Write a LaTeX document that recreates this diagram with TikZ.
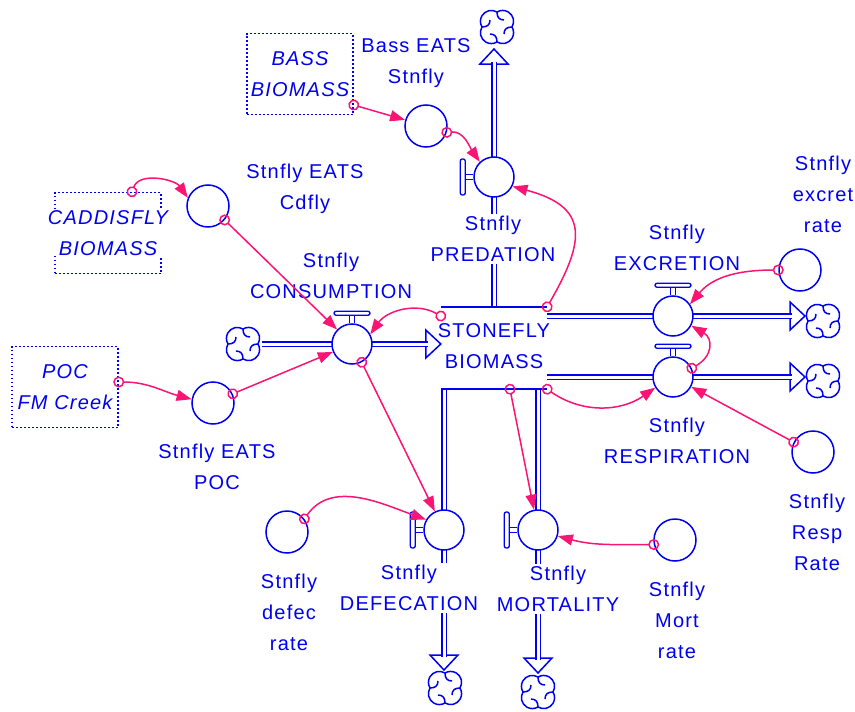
\documentclass[tikz,border=0pt]{standalone}
\usepackage{fontspec}
\setmainfont{Liberation Sans}[LetterSpace=6]
\usetikzlibrary{arrows.meta,backgrounds}

\definecolor{sfblue}{RGB}{0,0,240}
\definecolor{sfpink}{RGB}{250,20,115}

\begin{document}
\begin{tikzpicture}[x=1pt, y=1pt,
    flowline/.style={draw=sfblue, line width=1.5pt},
    handle/.style={draw=sfblue, line width=1.3pt},
    pipe/.style={draw=sfblue, double=white, double distance=3pt, line width=1.4pt},
    valve/.style={circle, flowline, fill=white, minimum size=40pt, inner sep=0pt},
    conv/.style={circle, flowline, fill=white, minimum size=42pt, inner sep=0pt},
    stockbox/.style={minimum width=106pt, minimum height=82pt, inner sep=0pt},
    ghost/.style={draw=sfblue, line width=1.5pt, dash pattern=on 1.6pt off 2.4pt,
        minimum width=106pt, minimum height=81pt, inner sep=0pt},
    lbl/.style={text=sfblue, fill=white, align=center, inner sep=2pt, font=\fontsize{20}{31}\selectfont},
    ghostlbl/.style={lbl, inner sep=0pt, font=\fontsize{20}{31}\selectfont\itshape},
    cloudspot/.style={circle, minimum size=38pt, inner sep=0pt},
    link/.style={draw=sfpink, line width=1.5pt, shorten <=-5.5pt,
        {Circle[open,length=11pt,width=11pt]}-{Triangle[length=15pt,width=11pt]}},
    cloud/.pic={
        \foreach \a in {0,90,180,270}{
            \draw[flowline, rotate=\a] (15,0) arc[start angle=-31.2, end angle=121.2, radius=10.92pt];
            \draw[flowline, rotate=\a] (15,0) .. controls (10,0) and (7,-2) .. (7,-7);
        }
    },
    flowtip/.pic={
        \draw[flowline] (-15,3) -- (-15,14) -- (0,0) -- (-15,-14) -- (-15,-3);
    }]
    \useasboundingbox (0,0) rectangle (855,-712);

    % stock
    \node[stockbox] (stock) at (494,-348) {};
    \draw[flowline] (stock.north west) -- (stock.north east)
        (stock.south west) -- (stock.south east);
    \node[lbl, fill=none] (stockLbl) at (494,-346) {STONEFLY\\BIOMASS};

    % valves
    \node[valve] (cons) at (352,-344) {};
    \node[valve] (pred) at (494,-177) {};
    \node[valve] (excr) at (673,-316) {};
    \node[valve] (resp) at (673,-377) {};
    \node[valve] (defec) at (444,-530) {};
    \node[valve] (mort) at (538,-530) {};

    \foreach \v in {cons,excr,resp}{
        \draw[handle] ([xshift=-2.5]\v.north) -- ++(0,8) ([xshift=2.5]\v.north) -- ++(0,8);
        \draw[handle, rounded corners=2] ([xshift=-18,yshift=8]\v.north) rectangle ([xshift=18,yshift=12]\v.north);
    }
    \foreach \v in {pred,defec,mort}{
        \draw[handle] ([yshift=2.5]\v.west) -- ++(-8,0) ([yshift=-2.5]\v.west) -- ++(-8,0);
        \draw[handle, rounded corners=2] ([xshift=-8,yshift=18]\v.west) rectangle ([xshift=-13,yshift=-18]\v.west);
    }

    % clouds
    \node[cloudspot] (cloudCons) at (243,-344) {};
    \node[cloudspot] (cloudPred) at (497,-27) {};
    \node[cloudspot] (cloudExcr) at (823,-321) {};
    \node[cloudspot] (cloudResp) at (823,-381) {};
    \node[cloudspot] (cloudDefec) at (445,-688) {};
    \node[cloudspot] (cloudMort) at (538,-692) {};
    \foreach \c in {cloudCons,cloudPred,cloudExcr,cloudResp,cloudDefec,cloudMort}
        \pic at (\c) {cloud};

    % pipe ends
    \coordinate (consTip) at (stock.west |- cons);
    \coordinate (predTip) at (494,-49);
    \coordinate (excrTip) at (805,-316);
    \coordinate (respTip) at (805,-377);
    \coordinate (defecTip) at (444,-670);
    \coordinate (mortTip) at (538,-673);
    \pic at (consTip) {flowtip};
    \pic[rotate=90] at (predTip) {flowtip};
    \pic at (excrTip) {flowtip};
    \pic at (respTip) {flowtip};
    \pic[rotate=-90] at (defecTip) {flowtip};
    \pic[rotate=-90] at (mortTip) {flowtip};

    \begin{scope}[on background layer]
        \draw[pipe] (cloudCons.east) -- ([xshift=-13]consTip);
        \draw[pipe] (stock.north -| pred) -- ([yshift=-13]predTip);
        \draw[pipe] (stock.east |- excr) -- ([xshift=-13]excrTip);
        \draw[pipe] (stock.east |- resp) -- ([xshift=-13]respTip);
        \draw[pipe] (stock.south -| defec) -- ([yshift=13]defecTip);
        \draw[pipe] (stock.south -| mort) -- ([yshift=13]mortTip);
    \end{scope}

    % converters
    \node[conv] (bassConv) at (426,-126) {};
    \node[conv] (cdConv) at (208,-206) {};
    \node[conv] (pocConv) at (213,-403) {};
    \node[conv] (excRate) at (800,-270) {};
    \node[conv] (respRate) at (813,-452) {};
    \node[conv] (defRate) at (287,-532) {};
    \node[conv] (mortRate) at (675,-540) {};

    % ghosts
    \node[ghost] (bassGhost) at (300,-74) {};
    \node[ghostlbl] (bassGhostLbl) at (bassGhost) {BASS\\BIOMASS};
    \node[ghost] (cadGhost) at (108,-233) {};
    \node[ghostlbl] (cadGhostLbl) at (cadGhost) {CADDISFLY\\BIOMASS};
    \node[ghost] (pocGhost) at (65,-387) {};
    \node[ghostlbl] (pocGhostLbl) at (pocGhost) {POC\\FM Creek};

    % labels
    \node[lbl] (bassLbl) at (416,-63) {Bass EATS\\Stnfly};
    \node[lbl] (predLbl) at (493,-239) {Stnfly\\PREDATION};
    \node[lbl] (cdLbl) at (305,-189) {Stnfly EATS\\Cdfly};
    \node[lbl] (consLbl) at (331,-276) {Stnfly\\CONSUMPTION};
    \node[lbl] (excrLbl) at (677,-248) {Stnfly\\EXCRETION};
    \node[lbl] (excRateLbl) at (823,-194) {Stnfly\\excret\\rate};
    \node[lbl] (respLbl) at (677,-441) {Stnfly\\RESPIRATION};
    \node[lbl] (respRateLbl) at (817,-532) {Stnfly\\Resp\\Rate};
    \node[lbl] (pocLbl) at (217,-467) {Stnfly EATS\\POC};
    \node[lbl] (defRateLbl) at (289,-612) {Stnfly\\defec\\rate};
    \node[lbl] (defecLbl) at (409,-588) {Stnfly\\DEFECATION};
    \node[lbl] (mortLbl) at (558,-589) {Stnfly\\MORTALITY};
    \node[lbl] (mortRateLbl) at (677,-620) {Stnfly\\Mort\\rate};

    % connectors
    \draw[link] (bassGhost.-30) -- (bassConv);
    \draw[link] (bassConv.-17) to[out=5,in=125] (pred.133);
    \draw[link] ([xshift=24]cadGhost.north) to[out=70,in=125] (cdConv.158);
    \draw[link] (cdConv.-40) -- (cons);
    \draw[link] ([yshift=5]pocGhost.east) to[out=0,in=165] (pocConv.170);
    \draw[link] (pocConv.25) -- (cons);
    \draw[link] (stock.149) to[out=150,in=55] (cons.28);
    \draw[link] (stock.north east) to[out=60,in=-15,looseness=1.6] (pred.-27);
    \draw[link] (cons.-62) -- (defec);
    \draw[link] (defRate.37) to[out=55,in=160] (defec.150);
    \draw[link] ([xshift=16]stock.south) -- (mort);
    \draw[link] (mortRate.192) to[out=180,in=-15] (mort.-17);
    \draw[link] (stock.south east) to[out=-35,in=215] (resp.211);
    \draw[link] (excRate.180) to[out=180,in=50] (excr.35);
    \draw[link] (resp.25) to[out=30,in=-30,looseness=1.5] (excr.-28);
    \draw[link] (respRate.153) -- (resp);
\end{tikzpicture}
\end{document}
